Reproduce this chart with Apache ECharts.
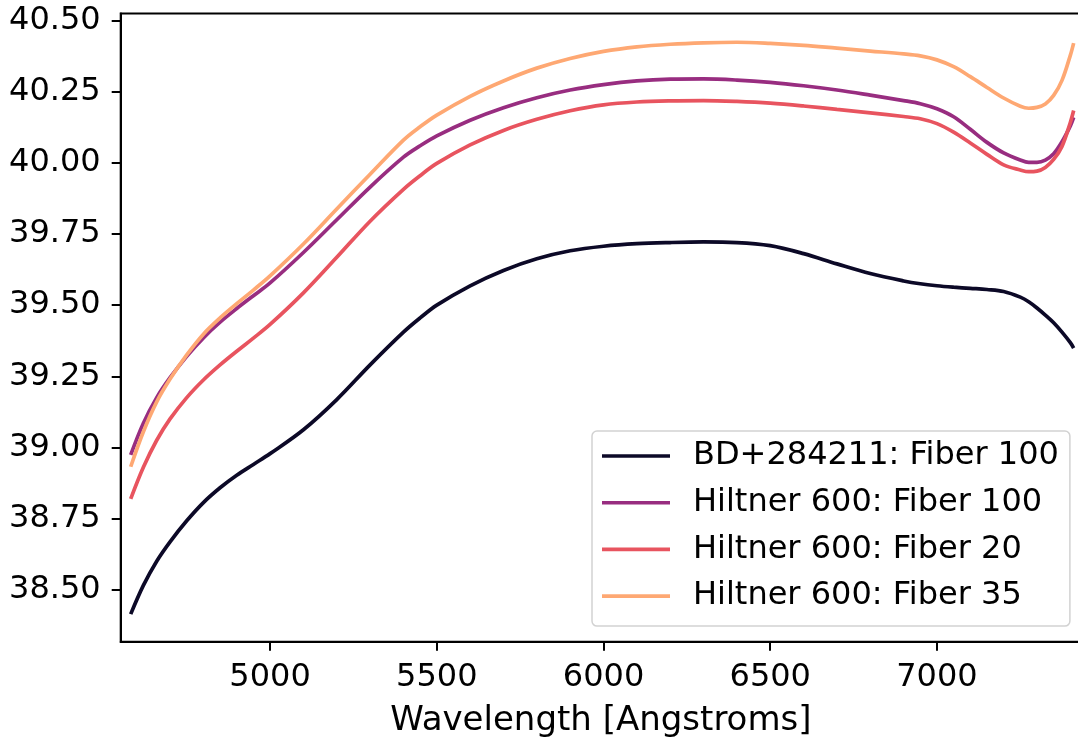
<!DOCTYPE html>
<html>
<head>
<meta charset="utf-8">
<script src="https://cdn.jsdelivr.net/npm/echarts@6/dist/echarts.min.js"></script>
<style>
html,body{margin:0;padding:0;background:#fff;}
#chart{width:1078px;height:738px;}
</style>
</head>
<body>
<div id="chart"></div>
<script>
const wavelengths = [4582,4620,4660,4700,4750,4800,4850,4900,4950,5000,5100,5200,5300,5400,5450,5500,5600,5700,5800,5900,6000,6100,6200,6300,6400,6500,6600,6700,6800,6900,6950,7000,7050,7100,7150,7200,7250,7275,7300,7325,7350,7375,7400,7410];

const bdFiber100 = [38.414,38.515,38.600,38.668,38.742,38.806,38.858,38.902,38.940,38.978,39.062,39.168,39.290,39.405,39.455,39.500,39.568,39.622,39.663,39.691,39.707,39.716,39.720,39.722,39.720,39.709,39.681,39.645,39.611,39.585,39.575,39.568,39.563,39.559,39.555,39.548,39.528,39.512,39.490,39.465,39.438,39.405,39.368,39.349];

const hiltnerFiber100 = [38.974,39.085,39.175,39.245,39.320,39.385,39.440,39.488,39.533,39.578,39.685,39.800,39.915,40.020,40.060,40.095,40.150,40.194,40.229,40.256,40.275,40.288,40.294,40.295,40.291,40.283,40.271,40.256,40.238,40.219,40.208,40.190,40.162,40.118,40.072,40.035,40.010,40.002,40.002,40.010,40.032,40.074,40.130,40.160];

const hiltnerFiber20 = [38.819,38.930,39.025,39.100,39.175,39.237,39.290,39.338,39.384,39.432,39.543,39.668,39.795,39.907,39.955,39.998,40.063,40.114,40.153,40.183,40.204,40.214,40.218,40.219,40.216,40.210,40.200,40.188,40.176,40.163,40.155,40.138,40.108,40.070,40.030,39.993,39.975,39.969,39.971,39.984,40.012,40.058,40.142,40.184];

const hiltnerFiber35 = [38.932,39.055,39.160,39.240,39.325,39.398,39.455,39.505,39.553,39.603,39.715,39.838,39.960,40.080,40.127,40.168,40.234,40.288,40.333,40.367,40.392,40.408,40.417,40.422,40.424,40.420,40.413,40.403,40.393,40.383,40.376,40.362,40.338,40.303,40.265,40.228,40.199,40.192,40.195,40.207,40.237,40.290,40.378,40.421];

const seriesNames = ['BD+284211: Fiber 100','Hiltner 600: Fiber 100','Hiltner 600: Fiber 20','Hiltner 600: Fiber 35'];
const seriesColors = ['#0c0927','#982d80','#e8545f','#fea873'];
const xTicks = [5000,5500,6000,6500,7000];
const yTicks = [38.50,38.75,39.00,39.25,39.50,39.75,40.00,40.25,40.50];

const allValues = [bdFiber100, hiltnerFiber100, hiltnerFiber20, hiltnerFiber35];

const chart = echarts.init(document.getElementById('chart'), null, {renderer:'canvas'});
const FONT = 'DejaVu Sans';

const series = allValues.map((vals, i) => ({
  name: seriesNames[i],
  type: 'line',
  data: wavelengths.map((w, j) => [w, vals[j]]),
  smooth: 0.35,
  symbol: 'none',
  lineStyle: {color: seriesColors[i], width: 3.7},
  itemStyle: {color: seriesColors[i]},
  animation: false
}));

chart.setOption({
  animation: false,
  backgroundColor: '#ffffff',
  grid: {left: 120.7, top: 13.5, right: -3, bottom: 96.3, containLabel: false, outerBoundsMode: 'none', show: true, borderColor: '#000', borderWidth: 2, backgroundColor: 'transparent'},
  xAxis: {
    type: 'value', min: 4552, max: 7432,
    name: 'Wavelength [Angstroms]', nameLocation: 'middle', nameGap: 62,
    nameTextStyle: {fontFamily: FONT, fontSize: 34, color: '#000'},
    axisLine: {show: true, lineStyle: {color: '#000', width: 2}},
    axisTick: {show: true, inside: false, length: 9, lineStyle: {color: '#000', width: 2}, customValues: xTicks},
    axisLabel: {show: true, margin: 20, fontFamily: FONT, fontSize: 32, color: '#000', customValues: xTicks, formatter: v => String(v)},
    splitLine: {show: false}
  },
  yAxis: {
    type: 'value', min: 38.317, max: 40.525,
    axisLine: {show: true, lineStyle: {color: '#000', width: 2}},
    axisTick: {show: true, inside: false, length: 9, lineStyle: {color: '#000', width: 2}, customValues: yTicks},
    axisLabel: {show: true, margin: 20, fontFamily: FONT, fontSize: 32, color: '#000', customValues: yTicks, formatter: v => Number(v).toFixed(2)},
    splitLine: {show: false}
  },
  legend: {
    show: true, orient: 'vertical', left: 592, top: 431,
    data: seriesNames.map(n => ({name: n, icon: 'rect'})),
    itemWidth: 68, itemHeight: 3.6, itemGap: 6.7,
    padding: [5, 11, 10, 10],
    borderColor: '#d2d2d2', borderWidth: 1.5, borderRadius: 5,
    backgroundColor: 'rgba(255,255,255,0.8)',
    textStyle: {fontFamily: FONT, fontSize: 32, color: '#000', lineHeight: 40, padding: [0,0,0,18]},
    selectedMode: false
  },
  series: series
});
</script>
</body>
</html>
